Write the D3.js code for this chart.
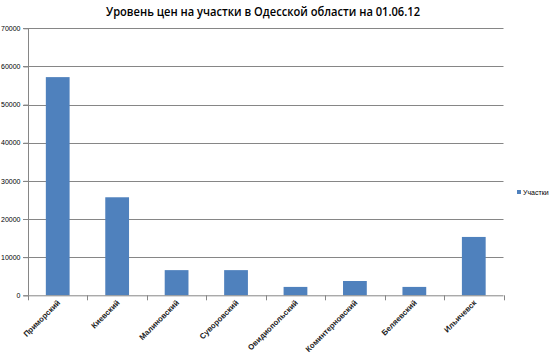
<!DOCTYPE html>
<html><head><meta charset="utf-8">
<script src="https://cdn.jsdelivr.net/npm/d3@7"></script>
<style>body{margin:0;background:#fff}svg{display:block}</style>
</head><body>
<script>
const categories = ["Приморский","Киевский","Малиновский","Суворовский","Овидиопольский","Коминтерновский","Беляевский","Ильичевск"];
const values = [57200, 25700, 6600, 6600, 2200, 3750, 2200, 15300];
const seriesName = "Участки";
const yTicks = [0,10000,20000,30000,40000,50000,60000,70000];
const title = "Уровень цен на участки в Одесской области на 01.06.12";

(function () {
const W = 559, H = 361;
const svg = d3.select("body").append("svg").attr("width", W).attr("height", H);
const pL = 28, pR = 503.5, pT = 28.3, pB = 295.3;
const axisColor = "#868686";

const x = d3.scaleBand().domain(categories).range([pL, pR]).paddingInner(0.6).paddingOuter(0.3);
const y = d3.scaleLinear().domain([0, 70000]).range([pB, pT]);

// gridlines
svg.append("g").selectAll("line").data(yTicks.filter(d => d > 0)).join("line")
  .attr("x1", pL - 5).attr("x2", pR)
  .attr("y1", d => Math.round(y(d)) + 0.5).attr("y2", d => Math.round(y(d)) + 0.5)
  .attr("stroke", axisColor).attr("stroke-width", 1);

// bars
svg.append("g").selectAll("rect").data(values).join("rect")
  .attr("x", (d, i) => x(categories[i]))
  .attr("y", d => y(d))
  .attr("width", x.bandwidth())
  .attr("height", d => y(0) - y(d))
  .attr("fill", "#4f81bd");

// y axis
const yAxis = d3.axisLeft(y).tickValues(yTicks).tickSize(5).tickFormat(d3.format("d"));
const gy = svg.append("g").attr("transform", `translate(${pL + 0.5},0)`).call(yAxis);
gy.select(".domain").attr("stroke", axisColor).attr("d", `M0,${pT}V${pB}`);
gy.selectAll(".tick line").attr("stroke", axisColor);
gy.selectAll(".tick text").attr("font-family", "Liberation Sans, Arial, sans-serif").attr("font-size", 7).attr("fill", "#000").attr("x", -8);

// x axis: ticks at band boundaries
const step = x.step();
const bounds = d3.range(categories.length + 1).map(i => pL + i * step);
const gx = svg.append("g");
gx.append("line").attr("x1", pL - 5).attr("x2", pR).attr("y1", pB + 0.5).attr("y2", pB + 0.5).attr("stroke", axisColor);
gx.selectAll("line.t").data(bounds).join("line").attr("class", "t")
  .attr("x1", d => Math.round(d) + 0.5).attr("x2", d => Math.round(d) + 0.5)
  .attr("y1", pB).attr("y2", pB + 5).attr("stroke", axisColor);
gx.selectAll("text").data(categories).join("text")
  .attr("transform", d => `translate(${x(d) + x.bandwidth() / 2 + 3},${pB + 8}) rotate(-45)`)
  .attr("text-anchor", "end")
  .attr("font-family", "Liberation Sans, Arial, sans-serif")
  .attr("font-size", 7.8).attr("font-weight", "bold").attr("fill", "#222")
  .text(d => d);

// title
svg.append("text").attr("x", 263).attr("y", 16).attr("text-anchor", "middle")
  .attr("font-family", "Open Sans, Liberation Sans, sans-serif").attr("font-weight", "600")
  .attr("font-size", 12.5).attr("textLength", 314).attr("lengthAdjust", "spacingAndGlyphs")
  .attr("fill", "#000").text(title);

// legend
const lg = svg.append("g").attr("transform", "translate(517,190)");
lg.append("rect").attr("width", 4).attr("height", 4).attr("fill", "#4f81bd");
lg.append("text").attr("x", 6).attr("y", 4.5).attr("font-family", "Liberation Sans, Arial, sans-serif")
  .attr("font-size", 7).attr("fill", "#000").text(seriesName);
})();
</script>
</body></html>
